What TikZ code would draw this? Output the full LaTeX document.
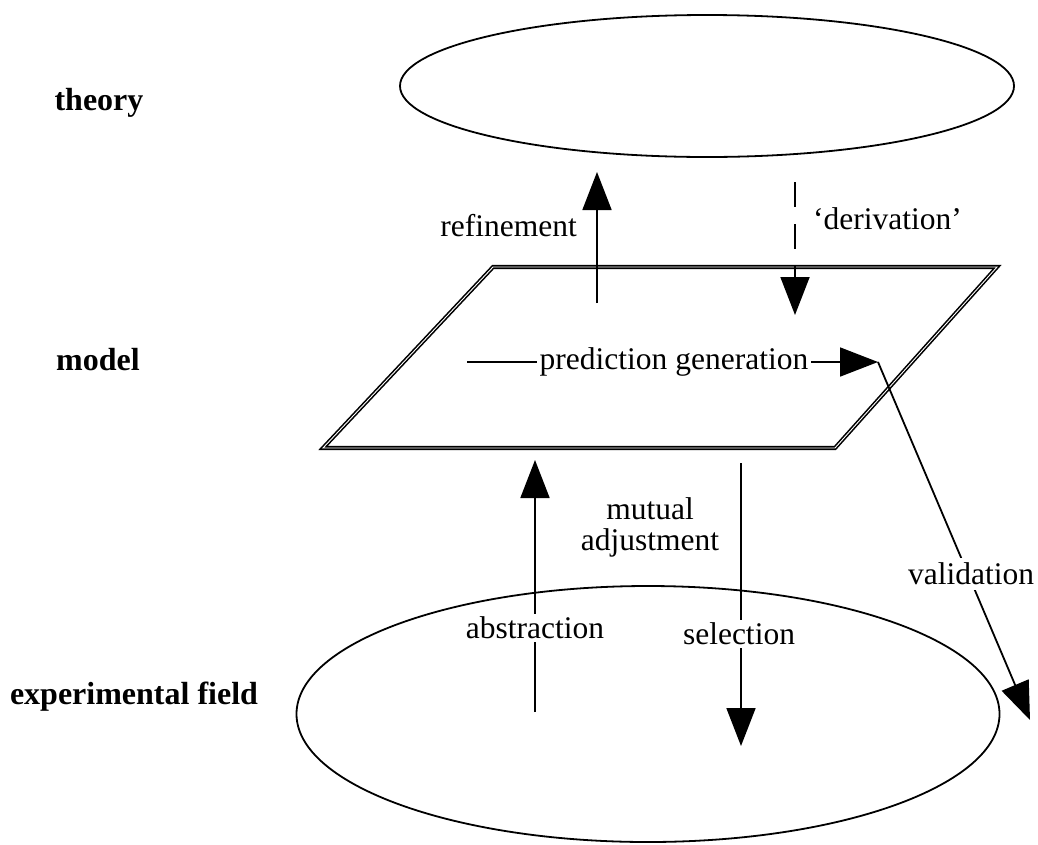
\documentclass[tikz,border=0pt]{standalone}
\usepackage{fontspec}
\setmainfont{Liberation Serif}
\usetikzlibrary{arrows.meta,shapes.geometric}
\begin{document}
\begin{tikzpicture}[x=1pt,y=-1pt,
  lbl/.style={font=\fontsize{31.5}{31}\selectfont, inner sep=3pt, align=center},
  gap/.style={lbl, fill=white},
  lvl/.style={font=\fontsize{32}{36}\selectfont\bfseries, inner sep=0pt},
  plain/.style={line width=1.8pt},
  conn/.style={line width=1.8pt, -{Triangle[width=29pt,length=38pt]}},
  oval/.style={draw, ellipse, line width=1.8pt, inner sep=0pt},
  plane/.style={draw, line width=1.6pt, double, double distance=0.9pt}]
\fill[white] (0,0) rectangle (1038,844);
\useasboundingbox (0,0) rectangle (1038,844);

% level labels
\node[lvl] (ltheory) at (99,103) {theory};
\node[lvl] (lmodel) at (98,360) {model};
\node[lvl] (lfield) at (134,697) {experimental field};

% theory and field ellipses
\node[oval, minimum width=614pt, minimum height=142pt] (theory) at (707,86) {};
\node[oval, minimum width=703pt, minimum height=256pt] (field) at (648,714) {};

% model plane
\coordinate (p1) at (493,267);
\coordinate (p2) at (997,267);
\coordinate (p3) at (835,448);
\coordinate (p4) at (323,448);
\draw[plane] (p1) -- (p2) -- (p3) -- (p4) -- cycle;

% refinement
\coordinate (refS) at (597,303);
\coordinate (refT) at (597,172);
\draw[conn] (refS) -- (refT);
\node[lbl, anchor=east] (lref) at (580,226) {refinement};

% derivation
\coordinate (derS) at (795,182);
\coordinate (derT) at (795,315);
\draw[conn, dash pattern=on 25pt off 17pt] (derS) -- (derT);
\node[lbl, anchor=west] (lder) at (810,219) {‘derivation’};

% prediction generation
\coordinate (pgS) at (467,362);
\coordinate (pgT) at (878,362);
\node[lbl, inner xsep=3pt] (pg) at (674,362) {prediction generation};
\draw[plain] (pgS) -- (pg.west);
\draw[conn] (pg.east) -- (pgT);

% validation
\coordinate (valT) at (1030,720);
\draw[conn] (pgT) -- (valT);
\node[gap, inner ysep=5pt] (val) at (971,574) {validation};

% abstraction
\coordinate (absS) at (535,712);
\coordinate (absT) at (535,460);
\node[lbl] (abs) at (535,628) {abstraction};
\draw[plain] (absS) -- (abs.south);
\draw[conn] (abs.north) -- (absT);

% selection
\coordinate (selS) at (741,463);
\coordinate (selT) at (741,746);
\node[lbl] (sel) at (739,634) {selection};
\draw[plain] (selS) -- (sel.north -| selS);
\draw[conn] (sel.south -| selS) -- (selT);

% mutual adjustment
\node[lbl] (mut) at (650,527) {mutual\\adjustment};
\end{tikzpicture}
\end{document}
